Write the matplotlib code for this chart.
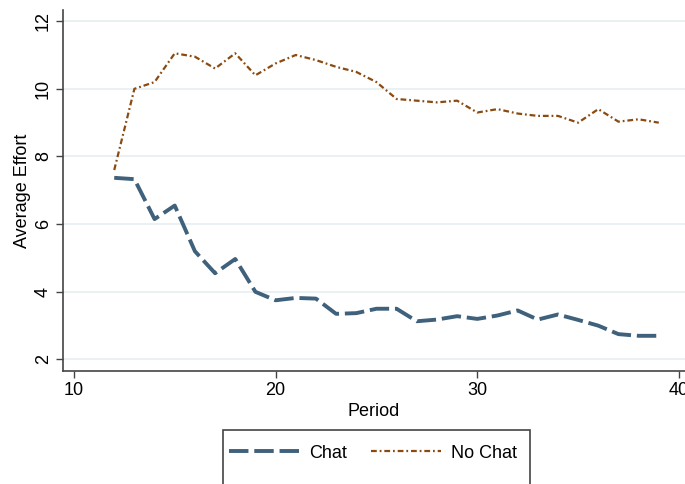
import matplotlib
matplotlib.use("Agg")
import matplotlib.pyplot as plt
from matplotlib.patches import Rectangle
from matplotlib.lines import Line2D

plt.rcParams['font.family'] = ['Liberation Sans', 'DejaVu Sans']

periods = list(range(12, 40))
chat = [7.37, 7.33, 6.15, 6.55, 5.2, 4.55, 4.97, 4.0, 3.75, 3.82, 3.8, 3.35, 3.37, 3.5,
        3.5, 3.13, 3.18, 3.28, 3.2, 3.3, 3.45, 3.18, 3.33, 3.17, 3.0, 2.75, 2.7, 2.7]
nochat = [7.6, 10.0, 10.2, 11.05, 10.95, 10.6, 11.05, 10.4, 10.75, 11.0, 10.85, 10.65, 10.5, 10.2,
          9.7, 9.65, 9.6, 9.65, 9.3, 9.4, 9.27, 9.2, 9.2, 9.0, 9.4, 9.03, 9.1, 9.0]
series_labels = ["Chat", "No Chat"]
xticks = [10, 20, 30, 40]
yticks = [2, 4, 6, 8, 10, 12]

c_chat = "#3f617b"
c_no = "#8a4a10"
fs = 13

fig = plt.figure(figsize=(6.85, 4.84), dpi=100)
ax = fig.add_axes([63/685, 113/484, 622/685, 361/484])

ax.plot(periods, chat, color=c_chat, lw=2.8, dashes=(5.0, 1.5), solid_capstyle='butt',
        dash_capstyle='butt', label=series_labels[0])
ax.plot(periods, nochat, color=c_no, lw=1.6, dashes=(2.6, 1.3, 0.8, 1.3),
        label=series_labels[1])

ax.set_xlim(9.46, 40.3)
ax.set_ylim(1.66, 12.33)
ax.set_xticks(xticks)
ax.set_yticks(yticks)
ax.set_yticklabels([str(t) for t in yticks], rotation=90, va='center')
ax.grid(axis='y', color='#e6eff1', lw=1.2)
ax.set_axisbelow(True)
for s in ['top', 'right']:
    ax.spines[s].set_visible(False)
for s in ['left', 'bottom']:
    ax.spines[s].set_color('#444444')
    ax.spines[s].set_linewidth(1.2)
ax.tick_params(axis='both', direction='out', length=5, width=1, color='#444444',
               labelsize=fs, pad=3)
ax.set_xlabel("Period", fontsize=fs, labelpad=3)
ax.set_ylabel("Average Effort", fontsize=fs, labelpad=3)

# legend box
rect = Rectangle((223/685, -0.05), (530-223)/685, (484-430)/484 + 0.05,
                 transform=fig.transFigure, fill=False, edgecolor='#444444', lw=1.2)
fig.add_artist(rect)
h1 = Line2D([0], [0], color=c_chat, lw=2.8, dashes=(5.0, 1.5))
h2 = Line2D([0], [0], color=c_no, lw=1.6, dashes=(2.6, 1.3, 0.8, 1.3))
fig.legend([h1, h2], series_labels, loc='center left',
           bbox_to_anchor=(229/685, 1 - 453/484), ncol=2, frameon=False,
           fontsize=fs, handlelength=3.9, columnspacing=1.3, handletextpad=0.55,
           borderpad=0, borderaxespad=0)

fig.savefig("out.png", dpi=100)
